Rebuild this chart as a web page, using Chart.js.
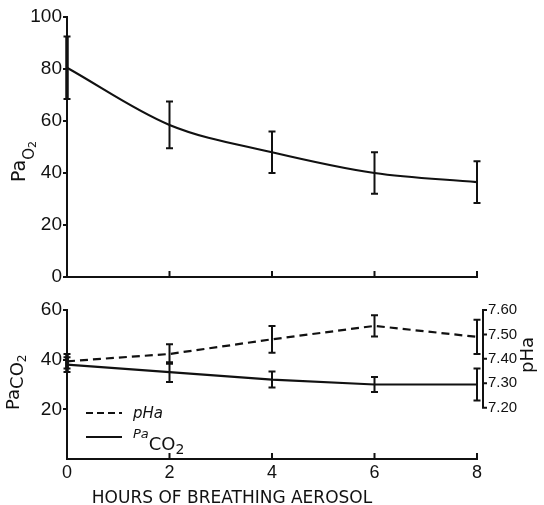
<!DOCTYPE html>
<html>
<head>
<meta charset="utf-8">
<script src="https://cdn.jsdelivr.net/npm/chart.js@4"></script>
<style>
html, body { margin: 0; padding: 0; background: #fff; }
#wrap { position: relative; width: 544px; height: 505px; }
#top { position: absolute; left: 0; top: 0; }
#bot { position: absolute; left: 0; top: 290px; }
</style>
</head>
<body>
<div id="wrap">
  <canvas id="top" width="544" height="290"></canvas>
  <canvas id="bot" width="544" height="215"></canvas>
</div>
<script>
// values
const hours = [0, 2, 4, 6, 8];
const pao2 = [80.5, 58.5, 48, 40, 36.5];
const pao2Err = [12, 9, 8, 8, 8];
const paco2 = [38, 35, 32, 30, 30];
const paco2Err = [3, 4, 3.2, 3, 6.4];
const pha = [7.39, 7.42, 7.48, 7.535, 7.49];
const phaErr = [0.03, 0.04, 0.055, 0.043, 0.07];

const pao2Ticks = [0, 20, 40, 60, 80, 100];
const paco2Ticks = [20, 40, 60];
const phTicks = [7.2, 7.3, 7.4, 7.5, 7.6];
const hourTicks = [0, 2, 4, 6, 8];

const INK = '#111';
const NARROW = "'Liberation Sans', Arial, sans-serif";
const SANS = "'DejaVu Sans', sans-serif";

function pts(ys) {
    return hours.map((h, i) => ({ x: h, y: ys[i] }));
}

// draw text pieces along a (possibly rotated) baseline, for sub/superscripts
function drawParts(ctx, x, y, rot, parts) {
    ctx.save();
    ctx.translate(x, y);
    ctx.rotate(rot);
    ctx.fillStyle = INK;
    ctx.textAlign = 'left';
    ctx.textBaseline = 'alphabetic';
    let cx = 0;
    parts.forEach(p => {
        ctx.font = p.font;
        ctx.fillText(p.text, cx, p.dy || 0);
        cx += ctx.measureText(p.text).width;
    });
    ctx.restore();
}

// vertical error bars from dataset.errors
const errorBars = {
    id: 'errorBars',
    afterDatasetsDraw(chart) {
        const ctx = chart.ctx;
        chart.data.datasets.forEach((ds, i) => {
            if (!ds.errors) return;
            const meta = chart.getDatasetMeta(i);
            const xs = chart.scales.x;
            const ys = chart.scales[meta.yAxisID];
            ctx.save();
            ctx.strokeStyle = INK;
            ds.data.forEach((p, j) => {
                const x = xs.getPixelForValue(p.x);
                const y1 = ys.getPixelForValue(p.y + ds.errors[j]);
                const y2 = ys.getPixelForValue(p.y - ds.errors[j]);
                ctx.lineWidth = j === 0 ? 3.5 : 2;
                ctx.beginPath();
                ctx.moveTo(x, y1); ctx.lineTo(x, y2);
                ctx.stroke();
                ctx.lineWidth = 2;
                ctx.beginPath();
                ctx.moveTo(x - 3.5, y1); ctx.lineTo(x + 3.5, y1);
                ctx.moveTo(x - 3.5, y2); ctx.lineTo(x + 3.5, y2);
                ctx.stroke();
            });
            ctx.restore();
        });
    }
};

// x ticks point up into the plot
const innerTicks = {
    id: 'innerTicks',
    afterDraw(chart) {
        const ctx = chart.ctx;
        const xs = chart.scales.x;
        const b = chart.chartArea.bottom;
        ctx.save();
        ctx.strokeStyle = INK;
        ctx.lineWidth = 2;
        hourTicks.slice(1).forEach(h => {
            const x = xs.getPixelForValue(h);
            ctx.beginPath();
            ctx.moveTo(x, b); ctx.lineTo(x, b - 6);
            ctx.stroke();
        });
        ctx.restore();
    }
};

const yFit = s => { s.width = 67; };
const tickFont = size => ({ family: NARROW, size: size });

new Chart(document.getElementById('top'), {
    type: 'line',
    data: {
        datasets: [{
            data: pts(pao2),
            errors: pao2Err,
            borderColor: INK,
            borderWidth: 2.2,
            pointRadius: 0,
            cubicInterpolationMode: 'monotone',
            yAxisID: 'y'
        }]
    },
    options: {
        responsive: false,
        animation: false,
        layout: { padding: { top: 17, right: 67, left: 0, bottom: 0 } },
        plugins: { legend: { display: false }, tooltip: { enabled: false } },
        scales: {
            x: {
                type: 'linear', min: 0, max: 8,
                grid: { display: false, drawTicks: false },
                border: { color: INK, width: 2 },
                ticks: { display: false },
                afterFit: s => { s.height = 13; }
            },
            y: {
                min: 0, max: 100,
                afterBuildTicks: s => { s.ticks = pao2Ticks.map(v => ({ value: v })); },
                grid: { drawOnChartArea: false, tickLength: 4, color: INK, lineWidth: 2 },
                border: { color: INK, width: 2 },
                ticks: { color: INK, padding: 1, font: tickFont(19) },
                afterFit: yFit
            }
        }
    },
    plugins: [errorBars, innerTicks, {
        id: 'topTitle',
        afterDraw(chart) {
            drawParts(chart.ctx, 25, 182, -Math.PI / 2, [
                { text: 'Pa', font: '19px ' + SANS },
                { text: 'O', font: '15px ' + SANS, dy: 9 },
                { text: '2', font: '11px ' + SANS, dy: 11 }
            ]);
        }
    }]
});

new Chart(document.getElementById('bot'), {
    type: 'line',
    data: {
        datasets: [{
            data: pts(pha),
            errors: phaErr,
            borderColor: INK,
            borderWidth: 2.2,
            borderDash: [8, 5],
            pointRadius: 0,
            tension: 0,
            yAxisID: 'yPh'
        }, {
            data: pts(paco2),
            errors: paco2Err,
            borderColor: INK,
            borderWidth: 2.2,
            pointRadius: 0,
            tension: 0,
            yAxisID: 'y'
        }]
    },
    options: {
        responsive: false,
        animation: false,
        layout: { padding: { top: 15, right: 0, left: 0, bottom: 0 } },
        plugins: { legend: { display: false }, tooltip: { enabled: false } },
        scales: {
            x: {
                type: 'linear', min: 0, max: 8,
                afterBuildTicks: s => { s.ticks = hourTicks.map(v => ({ value: v })); },
                grid: { display: false, drawTicks: false },
                border: { color: INK, width: 2 },
                ticks: { color: INK, padding: 3, font: tickFont(18) },
                afterFit: s => { s.height = 46; }
            },
            y: {
                min: 0, max: 60,
                afterBuildTicks: s => { s.ticks = paco2Ticks.map(v => ({ value: v })); },
                grid: { drawOnChartArea: false, tickLength: 4, color: INK, lineWidth: 2 },
                border: { color: INK, width: 2 },
                ticks: { color: INK, padding: 1, font: tickFont(19) },
                afterFit: yFit
            },
            yPh: {
                position: 'right',
                min: 6.99, max: 7.6,
                afterBuildTicks: s => { s.ticks = phTicks.map(v => ({ value: v })); },
                grid: { display: false, drawTicks: false },
                border: { display: false },
                ticks: {
                    color: INK, padding: 11, font: tickFont(15),
                    callback: v => v.toFixed(2)
                },
                afterFit: yFit
            }
        }
    },
    plugins: [errorBars, innerTicks, {
        id: 'botDecor',
        afterDraw(chart) {
            const ctx = chart.ctx;
            const yp = chart.scales.yPh;
            const bx = chart.chartArea.right + 6;
            // bracket for the pH axis
            ctx.save();
            ctx.strokeStyle = INK;
            ctx.lineWidth = 2;
            const t = yp.getPixelForValue(phTicks[phTicks.length - 1]);
            const b = yp.getPixelForValue(phTicks[0]);
            ctx.beginPath();
            ctx.moveTo(bx + 4, t); ctx.lineTo(bx, t); ctx.lineTo(bx, b); ctx.lineTo(bx + 4, b);
            phTicks.slice(1, -1).forEach(v => {
                const y = yp.getPixelForValue(v);
                ctx.moveTo(bx, y); ctx.lineTo(bx + 4, y);
            });
            ctx.stroke();

            // legend
            const L = chart.chartArea.left;
            ctx.lineWidth = 2.2;
            ctx.setLineDash([7, 4]);
            ctx.beginPath(); ctx.moveTo(L + 19, 123); ctx.lineTo(L + 55, 123); ctx.stroke();
            ctx.setLineDash([]);
            ctx.beginPath(); ctx.moveTo(L + 19, 147); ctx.lineTo(L + 55, 147); ctx.stroke();
            ctx.restore();
            drawParts(ctx, L + 66, 128, 0, [{ text: 'pHa', font: 'italic 15px ' + SANS }]);
            drawParts(ctx, L + 66, 148, 0, [
                { text: 'Pa', font: 'italic 13px ' + SANS },
                { text: 'CO', font: '18px ' + SANS, dy: 12 },
                { text: '2', font: '14px ' + SANS, dy: 16 }
            ]);

            // axis titles
            drawParts(ctx, 19, 120, -Math.PI / 2, [
                { text: 'Pa', font: '18px ' + SANS },
                { text: 'CO', font: '18px ' + SANS, dy: 4 },
                { text: '2', font: '12px ' + SANS, dy: 7 }
            ]);
            drawParts(ctx, 533, 83, -Math.PI / 2, [{ text: 'pHa', font: '18px ' + SANS }]);
            ctx.save();
            ctx.fillStyle = INK;
            ctx.font = '17px ' + SANS;
            ctx.textAlign = 'center';
            ctx.fillText('HOURS OF BREATHING AEROSOL', 232, 213);
            ctx.restore();
        }
    }]
});
</script>
</body>
</html>
